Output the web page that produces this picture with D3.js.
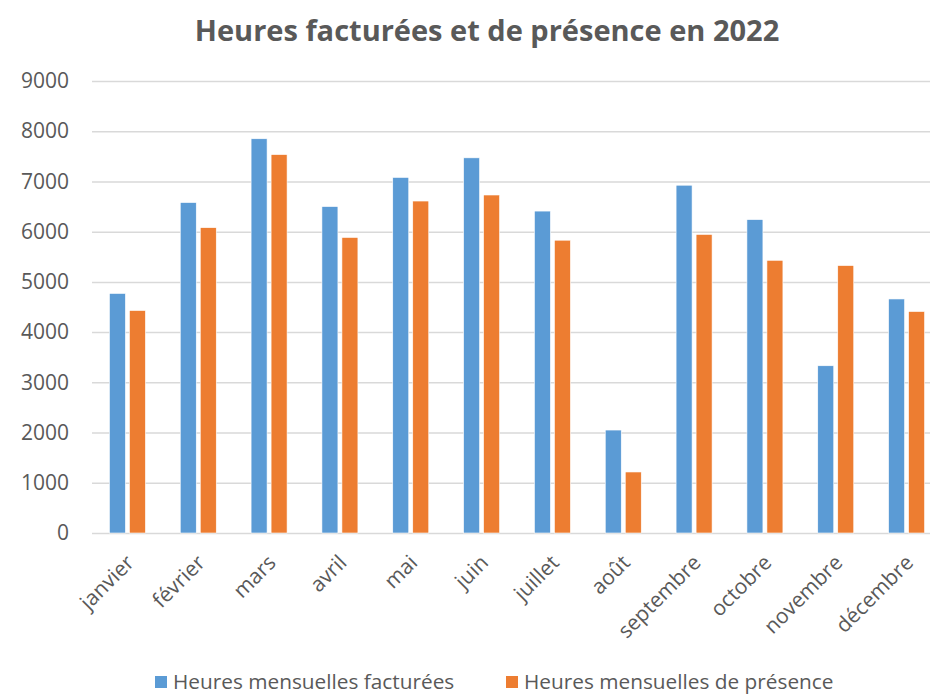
<!DOCTYPE html>
<html lang="fr">
<head>
    <meta charset="UTF-8">
    <title>Heures facturées et de présence en 2022</title>
    <script src="https://d3js.org/d3.v7.min.js"></script>
    <style>
        body {
            margin: 0;
            background: #fff;
            font-family: 'Open Sans', sans-serif;
        }
        svg { display: block; }
        .tick text, .legend-item, .month-label {
            fill: #595959;
        }
    </style>
</head>
<body>
    <div id="chart"></div>
    <script>
        const months = ["janvier", "février", "mars", "avril", "mai", "juin",
            "juillet", "août", "septembre", "octobre", "novembre", "décembre"];
        const facturees = [4770, 6580, 7850, 6500, 7080, 7470, 6410, 2050, 6925, 6240, 3330, 4660];
        const presence = [4430, 6080, 7535, 5885, 6610, 6730, 5830, 1215, 5945, 5430, 5325, 4410];
        const seriesNames = ["Heures mensuelles facturées", "Heures mensuelles de présence"];
        const yTicks = [0, 1000, 2000, 3000, 4000, 5000, 6000, 7000, 8000, 9000];

        const W = 930, H = 694;
        const plot = {left: 92, right: 942, top: 81, bottom: 533};
        const colors = ["#5B9BD5", "#ED7D31"];

        const svg = d3.select("#chart").append("svg")
            .attr("width", W)
            .attr("height", H);

        const x = d3.scaleBand()
            .domain(months)
            .range([plot.left, plot.right])
            .padding(0);

        const y = d3.scaleLinear()
            .domain([0, 9000])
            .range([plot.bottom, plot.top]);

        // deux barres de 16px séparées de 4px, centrées dans chaque mois
        const barW = 16, barGap = 4;
        const xs = d3.scaleBand()
            .domain([0, 1])
            .range([-(barW + barGap / 2), barW + barGap / 2])
            .paddingInner(barGap / (barW + barGap));

        // Titre
        svg.append("text")
            .attr("x", 487)
            .attr("y", 41)
            .attr("text-anchor", "middle")
            .attr("fill", "#595959")
            .style("font-size", "29px")
            .style("font-weight", "bold")
            .text("Heures facturées et de présence en 2022");

        // Grille + axe Y
        const yAxis = svg.append("g")
            .attr("transform", `translate(${plot.left},0)`)
            .call(d3.axisLeft(y)
                .tickValues(yTicks)
                .tickFormat(d3.format("d"))
                .tickSize(-(plot.right - plot.left))
                .tickPadding(23))
            .call(g => g.select(".domain").remove());

        yAxis.selectAll(".tick line")
            .attr("stroke", "#d9d9d9")
            .attr("stroke-width", 1.5);
        yAxis.selectAll(".tick text")
            .style("font-size", "21px")
            .style("font-family", "'Open Sans', sans-serif");

        // Barres
        const data = months.map((m, i) => ({month: m, values: [facturees[i], presence[i]]}));

        const groups = svg.append("g")
            .selectAll("g")
            .data(data)
            .join("g")
            .attr("transform", d => `translate(${x(d.month) + x.bandwidth() / 2},0)`);

        groups.selectAll("rect")
            .data(d => d.values.map((v, k) => ({k, v})))
            .join("rect")
            .attr("x", d => xs(d.k))
            .attr("width", xs.bandwidth())
            .attr("y", d => y(d.v))
            .attr("height", d => y(0) - y(d.v))
            .attr("fill", d => colors[d.k])
            .attr("stroke", "#fff")
            .attr("stroke-width", 0.6);

        // Étiquettes des mois (inclinées à -45°)
        svg.append("g")
            .selectAll("text")
            .data(months)
            .join("text")
            .attr("class", "month-label")
            .attr("transform", d => `translate(${x(d) + x.bandwidth() / 2 + 8},${plot.bottom + 31}) rotate(-45)`)
            .attr("text-anchor", "end")
            .style("font-size", "21px")
            .text(d => d);

        // Légende
        const legendX = [155, 506];
        const legend = svg.append("g")
            .selectAll("g")
            .data(seriesNames)
            .join("g")
            .attr("transform", (d, i) => `translate(${legendX[i]},676)`);

        legend.append("rect")
            .attr("width", 12)
            .attr("height", 12)
            .attr("fill", (d, i) => colors[i]);

        legend.append("text")
            .attr("class", "legend-item")
            .attr("x", 18)
            .attr("y", 13)
            .style("font-size", "20.8px")
            .text(d => d);
    </script>
</body>
</html>
